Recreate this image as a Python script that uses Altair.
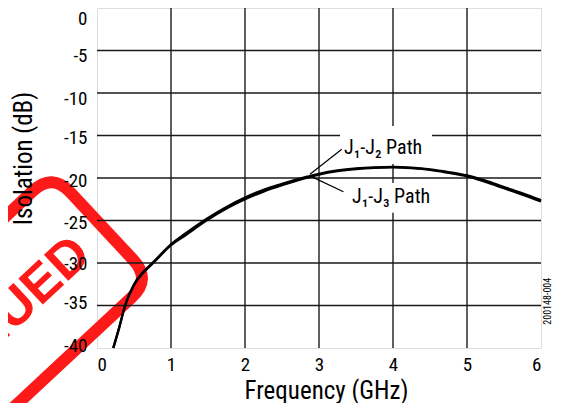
import altair as alt
import pandas as pd

# ---- data ----
FREQ = [0.22, 0.3, 0.38, 0.5, 0.62, 0.76, 1.0, 1.2, 1.5, 1.75, 2.0, 2.25, 2.5,
        2.84, 3.0, 3.25, 3.5, 3.75, 4.0, 4.25, 4.5, 4.75, 5.0, 5.25, 5.5, 5.75, 6.0]
J1_J2 = [-40.0, -37.6, -35.0, -32.5, -31.1, -29.9, -27.8, -26.5, -24.7, -23.4, -22.3,
         -21.4, -20.7, -19.85, -19.5, -19.1, -18.86, -18.74, -18.7, -18.78, -18.98,
         -19.3, -19.7, -20.3, -21.06, -21.8, -22.6]
J1_J3 = [-40.0, -37.6, -35.0, -32.6, -31.2, -30.0, -27.9, -26.7, -24.9, -23.6, -22.5,
         -21.6, -20.85, -19.95, -19.6, -19.2, -18.95, -18.8, -18.75, -18.85, -19.05,
         -19.4, -19.8, -20.45, -21.2, -21.95, -22.75]

X_TICKS = [0, 1, 2, 3, 4, 5, 6]
Y_TICKS = [0, -5, -10, -15, -20, -25, -30, -35, -40]
V_GRID = [1, 2, 3, 4, 5]
H_GRID = [-5, -10, -15, -20, -25, -30, -35]

LABELS = ["J\u2081-J\u2082 Path", "J\u2081-J\u2083 Path"]
LABEL_X = [3.338, 3.446]
LABEL_Y = [-17.18, -22.9]
LEAD_X1 = [3.307, 3.33]
LEAD_Y1 = [-16.62, -21.61]
LEAD_X2 = [2.878, 2.878]
LEAD_Y2 = [-19.55, -19.75]
BOX_X1 = [3.284, 3.284]
BOX_X2 = [4.527, 4.527]
BOX_Y1 = [-13.88, -20.6]
BOX_Y2 = [-18.35, -24.1]

CODE_TEXT = ["200148-004"]
CODE_X = [6.095]
CODE_Y = [-34.5]

STAMP_TEXT = ["DISCONTINUED"]
STAMP_TEXT_X = [-0.2]
STAMP_TEXT_Y = [-28.0]
STAMP_X = [-2.11]
STAMP_Y = [-43.3]

FONT = "Roboto Condensed, Liberation Sans, sans-serif"

xs = alt.Scale(domain=[0, 6], nice=False, zero=False)
ys = alt.Scale(domain=[-40, 0], nice=False, zero=False)

curves = pd.DataFrame({
    "f": FREQ * 2,
    "v": J1_J2 + J1_J3,
    "s": ["J1-J2"] * len(FREQ) + ["J1-J3"] * len(FREQ),
})
vgrid = pd.DataFrame({"x": V_GRID, "y0": [-40] * len(V_GRID), "y1": [0] * len(V_GRID)})
hgrid = pd.DataFrame({"y": H_GRID, "x0": [0] * len(H_GRID), "x1": [6] * len(H_GRID)})
labels = pd.DataFrame({"t": LABELS, "x": LABEL_X, "y": LABEL_Y})
leads = pd.DataFrame({"x1": LEAD_X1, "y1": LEAD_Y1, "x2": LEAD_X2, "y2": LEAD_Y2})
boxes = pd.DataFrame({"x1": BOX_X1, "x2": BOX_X2, "y1": BOX_Y1, "y2": BOX_Y2})
code = pd.DataFrame({"t": CODE_TEXT, "x": CODE_X, "y": CODE_Y})
stamp_t = pd.DataFrame({"t": STAMP_TEXT, "x": STAMP_TEXT_X, "y": STAMP_TEXT_Y})
stamp_b = pd.DataFrame({"x": STAMP_X, "y": STAMP_Y})

STAMP_PATH = ("M -0.88 -0.33 L 0.88 -0.33 Q 1 -0.33 1 -0.21 L 1 0.21 Q 1 0.33 0.88 0.33 "
              "L -0.88 0.33 Q -1 0.33 -1 0.21 L -1 -0.21 Q -1 -0.33 -0.88 -0.33 Z")

x_axis = alt.Axis(values=X_TICKS, title="Frequency (GHz)", grid=False, domain=False, ticks=False,
                  labelExpr="toString(datum.value)",
                  labelFont=FONT, labelFontSize=19, labelColor="black", labelPadding=7,
                  titleFont=FONT, titleFontSize=25, titleFontWeight="normal", titleColor="black",
                  titleX=229, titleY=50, titleBaseline="alphabetic", zindex=1)
y_axis = alt.Axis(values=Y_TICKS, title="Isolation (dB)", grid=False, domain=False, ticks=False,
                  labelExpr="toString(datum.value)",
                  labelFont=FONT, labelFontSize=19, labelColor="black", labelPadding=10,
                  labelOffset={"condition": [
                      {"test": "datum.value >= 0", "value": 10},
                      {"test": "datum.value >= -10", "value": 5},
                      {"test": "datum.value >= -25", "value": 2},
                      {"test": "datum.value >= -30", "value": 0}], "value": -3},
                  titleFont=FONT, titleFontSize=25, titleFontWeight="normal", titleColor="black",
                  titleX=-74, titleY=150, titleBaseline="middle", titleAngle=270, zindex=1)


def X(f):
    return alt.X(f, scale=xs, axis=x_axis)


def Y(f):
    return alt.Y(f, scale=ys, axis=y_axis)


stamp_border = alt.Chart(stamp_b).mark_point(
    shape=STAMP_PATH, size=193600, angle=317, filled=False, stroke="#ff1a1a",
    strokeWidth=12, opacity=1
).encode(x=X("x:Q"), y=Y("y:Q"))

stamp_text = alt.Chart(stamp_t).mark_text(
    angle=317, align="right", baseline="middle", fontSize=52, fontWeight="bold",
    font="Liberation Sans, DejaVu Sans", color="#ff1a1a"
).encode(x=X("x:Q"), y=Y("y:Q"), text="t:N")

vg = alt.Chart(vgrid).mark_rule(color="#1a1a1a", strokeWidth=1.4).encode(
    x=X("x:Q"), y=Y("y0:Q"), y2="y1:Q")
hg = alt.Chart(hgrid).mark_rule(color="#1a1a1a", strokeWidth=1.4).encode(
    y=Y("y:Q"), x=X("x0:Q"), x2="x1:Q")

box = alt.Chart(boxes).mark_rect(color="white").encode(
    x=X("x1:Q"), x2="x2:Q", y=Y("y1:Q"), y2="y2:Q")

lines = alt.Chart(curves).mark_line(color="black", strokeWidth=2.3, interpolate="monotone").encode(
    x=X("f:Q"), y=Y("v:Q"), detail="s:N")

lead = alt.Chart(leads).mark_rule(color="black", strokeWidth=1.2).encode(
    x=X("x1:Q"), y=Y("y1:Q"), x2="x2:Q", y2="y2:Q")

lab = alt.Chart(labels).mark_text(
    align="left", baseline="alphabetic", fontSize=20, font=FONT, color="black"
).encode(x=X("x:Q"), y=Y("y:Q"), text="t:N")

code_t = alt.Chart(code).mark_text(
    angle=270, align="center", baseline="middle", fontSize=10, font=FONT, color="black"
).encode(x=X("x:Q"), y=Y("y:Q"), text="t:N")

chart = alt.layer(
    stamp_border, stamp_text, vg, hg, box, lines, lead, lab, code_t
).properties(
    width=444, height=340,
    autosize=alt.AutoSizeParams(type="none"),
    padding={"left": 89, "top": 0, "right": 12, "bottom": 55},
).configure_view(stroke="black", strokeWidth=1.6).configure(background="white")

chart.save("out.html", embed_options={"renderer": "svg", "actions": False})
